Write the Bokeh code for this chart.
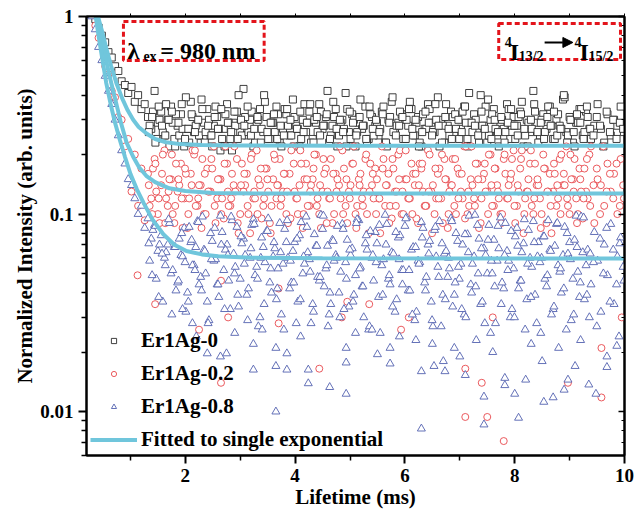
import numpy as np
from bokeh.plotting import figure
from bokeh.models import (FixedTicker, CustomJSTickFormatter, LogAxis, LinearAxis,
                          Legend, LegendItem, BoxAnnotation, Label, Arrow, NormalHead)
from bokeh.embed import file_html
from bokeh.resources import INLINE

# ---------------- data ----------------
t_start = 0.30    # ms, first sample of the main trace
t_start2 = 1.35   # ms, first sample of the 2nd interleaved trace
t_start3 = 1.335  # ms, first sample of the 3rd interleaved trace
t_step = 0.06     # ms, sampling interval

black_y = [1.05, 0.97, 0.88, 0.80, 0.74, 0.66, 0.62, 0.56, 0.53, 0.47, 0.45, 0.41, 0.44, 0.37, 0.40, 0.34, 0.36,
           0.31, 0.27, 0.42, 0.29, 0.33, 0.25, 0.30, 0.35, 0.24, 0.28,
           0.32, 0.22, 0.27, 0.37, 0.26, 0.30, 0.23, 0.29, 0.34, 0.25,
           0.28, 0.31, 0.21, 0.27, 0.36, 0.24, 0.29, 0.33, 0.26, 0.43,
           0.25, 0.30, 0.22, 0.28, 0.34, 0.26, 0.31, 0.24, 0.29, 0.35,
           0.23, 0.27, 0.32, 0.25, 0.38, 0.28, 0.22, 0.30, 0.26, 0.33,
           0.24, 0.29, 0.36, 0.27, 0.31, 0.23, 0.28, 0.34, 0.25, 0.30,
           0.41, 0.26, 0.32, 0.22, 0.29, 0.27, 0.35, 0.24, 0.31, 0.28,
           0.25, 0.33, 0.23, 0.30, 0.37, 0.26, 0.29, 0.32, 0.24, 0.28,
           0.34, 0.25, 0.31, 0.22, 0.27, 0.36, 0.29, 0.26, 0.39, 0.30,
           0.23, 0.28, 0.33, 0.25, 0.31, 0.27, 0.35, 0.24, 0.29, 0.32,
           0.26, 0.40, 0.28, 0.23, 0.30, 0.34, 0.25, 0.29, 0.27, 0.36,
           0.24, 0.31, 0.28, 0.33, 0.22, 0.30, 0.26, 0.42, 0.29, 0.25,
           0.32, 0.27, 0.35, 0.24, 0.30, 0.28, 0.38, 0.26, 0.31, 0.23,
           0.29, 0.34, 0.25, 0.33, 0.27]
black_y2 = [0.28, 0.33, 0.24, 0.30, 0.26, 0.36, 0.22, 0.29, 0.32, 0.25,
            0.27, 0.39, 0.23, 0.31, 0.28, 0.25, 0.34, 0.26, 0.30, 0.22,
            0.35, 0.27, 0.24, 0.32, 0.29, 0.21, 0.28, 0.40, 0.25, 0.31,
            0.26, 0.33, 0.23, 0.30, 0.27, 0.37, 0.24, 0.29, 0.26, 0.32,
            0.22, 0.34, 0.28, 0.25, 0.31, 0.27, 0.24, 0.36, 0.29, 0.23,
            0.30, 0.26, 0.33, 0.28, 0.42, 0.25, 0.31, 0.22, 0.29, 0.27,
            0.34, 0.24, 0.30, 0.26, 0.38, 0.28, 0.23, 0.32, 0.25, 0.29,
            0.27, 0.35, 0.22, 0.31, 0.26, 0.28, 0.33, 0.24, 0.30, 0.37,
            0.25, 0.29, 0.23, 0.32, 0.27, 0.34, 0.26, 0.30, 0.22, 0.28,
            0.36, 0.25, 0.31, 0.27, 0.24, 0.33, 0.29, 0.41, 0.26, 0.30,
            0.23, 0.28, 0.35, 0.25, 0.32, 0.27, 0.22, 0.30, 0.26, 0.34,
            0.28, 0.24, 0.31, 0.37, 0.25, 0.29, 0.27, 0.33, 0.23, 0.30,
            0.26, 0.35, 0.28, 0.24, 0.32, 0.27, 0.39, 0.25, 0.30, 0.22,
            0.29, 0.34, 0.26, 0.31, 0.24, 0.28, 0.36, 0.27, 0.23, 0.32,
            0.25, 0.30, 0.28, 0.35, 0.26]
black_y3 = [0.26, 0.31, 0.23, 0.35, 0.28, 0.25, 0.30, 0.33, 0.22, 0.29,
            0.36, 0.24, 0.27, 0.32, 0.26, 0.30, 0.38, 0.23, 0.28, 0.25,
            0.31, 0.27, 0.34, 0.22, 0.29, 0.26, 0.33, 0.24, 0.30, 0.28,
            0.35, 0.25, 0.27, 0.31, 0.23, 0.40, 0.26, 0.29, 0.32, 0.24,
            0.28, 0.25, 0.34, 0.30, 0.22, 0.27, 0.33, 0.26, 0.29, 0.36,
            0.23, 0.31, 0.25, 0.28, 0.32, 0.24, 0.37, 0.27, 0.30, 0.26,
            0.22, 0.33, 0.29, 0.25, 0.31, 0.28, 0.24, 0.35, 0.27, 0.30,
            0.26, 0.32, 0.23, 0.29, 0.39, 0.25, 0.28, 0.31, 0.24, 0.34,
            0.27, 0.30, 0.22, 0.26, 0.33, 0.29, 0.25, 0.36, 0.28, 0.23,
            0.31, 0.27, 0.24, 0.32, 0.30, 0.26, 0.35, 0.22, 0.29, 0.28,
            0.25, 0.33, 0.27, 0.38, 0.24, 0.30, 0.26, 0.31, 0.23, 0.29,
            0.34, 0.28, 0.25, 0.32, 0.27, 0.22, 0.30, 0.36, 0.26, 0.29,
            0.24, 0.31, 0.28, 0.33, 0.25, 0.27, 0.40, 0.23, 0.30, 0.26,
            0.32, 0.29, 0.24, 0.35, 0.27, 0.25, 0.31, 0.28, 0.22, 0.33,
            0.26, 0.30, 0.24, 0.29, 0.27]

red_y = [1.02, 0.90, 0.78, 0.70, 0.56, 0.51, 0.42, 0.39, 0.31, 0.30, 0.22, 0.24, 0.13, 0.20, 0.11, 0.17, 0.093,
         0.16, 0.12, 0.19, 0.10, 0.14, 0.21, 0.11, 0.15, 0.09, 0.13,
         0.18, 0.12, 0.085, 0.16, 0.20, 0.11, 0.14, 0.10, 0.17, 0.13,
         0.22, 0.12, 0.15, 0.095, 0.18, 0.11, 0.14, 0.19, 0.10, 0.13,
         0.16, 0.08, 0.12, 0.21, 0.14, 0.11, 0.17, 0.09, 0.15, 0.12,
         0.19, 0.13, 0.10, 0.16, 0.22, 0.12, 0.14, 0.085, 0.18, 0.11,
         0.15, 0.20, 0.10, 0.13, 0.17, 0.12, 0.09, 0.16, 0.14, 0.21,
         0.11, 0.13, 0.18, 0.10, 0.15, 0.12, 0.19, 0.08, 0.14, 0.17,
         0.12, 0.22, 0.11, 0.16, 0.095, 0.13, 0.20, 0.10, 0.15, 0.12,
         0.18, 0.14, 0.09, 0.17, 0.11, 0.21, 0.13, 0.10, 0.16, 0.12,
         0.19, 0.085, 0.14, 0.11, 0.17, 0.13, 0.22, 0.10, 0.15, 0.12,
         0.18, 0.09, 0.16, 0.13, 0.20, 0.11, 0.14, 0.10, 0.19, 0.12,
         0.15, 0.21, 0.11, 0.17, 0.08, 0.13, 0.18, 0.10, 0.14, 0.12,
         0.20, 0.09, 0.16, 0.13, 0.11, 0.19, 0.14, 0.22, 0.10, 0.15,
         0.12, 0.17, 0.095, 0.13, 0.20]
red_y2 = [0.11, 0.17, 0.13, 0.09, 0.20, 0.12, 0.15, 0.10, 0.18, 0.14,
          0.085, 0.16, 0.12, 0.21, 0.11, 0.14, 0.19, 0.10, 0.13, 0.17,
          0.09, 0.15, 0.12, 0.22, 0.11, 0.16, 0.13, 0.08, 0.18, 0.14,
          0.10, 0.20, 0.12, 0.15, 0.095, 0.17, 0.13, 0.11, 0.19, 0.14,
          0.12, 0.16, 0.09, 0.21, 0.13, 0.10, 0.18, 0.15, 0.11, 0.14,
          0.20, 0.12, 0.085, 0.16, 0.13, 0.19, 0.10, 0.15, 0.12, 0.17,
          0.09, 0.14, 0.22, 0.11, 0.16, 0.13, 0.10, 0.18, 0.12, 0.15,
          0.08, 0.19, 0.14, 0.11, 0.17, 0.13, 0.21, 0.10, 0.15, 0.12,
          0.16, 0.095, 0.18, 0.13, 0.11, 0.20, 0.14, 0.12, 0.17, 0.09,
          0.15, 0.13, 0.19, 0.10, 0.16, 0.12, 0.22, 0.11, 0.14, 0.18,
          0.085, 0.15, 0.13, 0.20, 0.11, 0.17, 0.12, 0.10, 0.16, 0.14,
          0.19, 0.09, 0.13, 0.21, 0.12, 0.15, 0.11, 0.18, 0.14, 0.10,
          0.17, 0.13, 0.08, 0.16, 0.12, 0.20, 0.14, 0.11, 0.15, 0.19,
          0.10, 0.13, 0.17, 0.12, 0.22, 0.09, 0.15, 0.14, 0.11, 0.18,
          0.13, 0.16, 0.10, 0.19, 0.12]
red_y3 = [0.14, 0.10, 0.18, 0.12, 0.16, 0.09, 0.13, 0.20, 0.11, 0.15,
          0.12, 0.17, 0.10, 0.14, 0.21, 0.12, 0.085, 0.16, 0.13, 0.19,
          0.11, 0.15, 0.10, 0.18, 0.13, 0.12, 0.22, 0.09, 0.14, 0.16,
          0.11, 0.19, 0.13, 0.10, 0.17, 0.12, 0.15, 0.08, 0.20, 0.14,
          0.11, 0.16, 0.13, 0.095, 0.18, 0.12, 0.21, 0.10, 0.15, 0.13,
          0.17, 0.11, 0.14, 0.19, 0.09, 0.12, 0.16, 0.13, 0.22, 0.10,
          0.15, 0.12, 0.18, 0.085, 0.14, 0.11, 0.20, 0.13, 0.16, 0.10,
          0.12, 0.17, 0.14, 0.09, 0.19, 0.11, 0.15, 0.13, 0.21, 0.12,
          0.10, 0.16, 0.14, 0.18, 0.11, 0.13, 0.08, 0.17, 0.12, 0.20,
          0.15, 0.10, 0.14, 0.19, 0.12, 0.16, 0.095, 0.13, 0.22, 0.11,
          0.15, 0.12, 0.18, 0.10, 0.14, 0.17, 0.13, 0.09, 0.20, 0.12,
          0.16, 0.11, 0.14, 0.19, 0.10, 0.13, 0.21, 0.12, 0.15, 0.085,
          0.17, 0.13, 0.11, 0.18, 0.14, 0.10, 0.16, 0.12, 0.20, 0.13,
          0.09, 0.15, 0.12, 0.19, 0.11, 0.14, 0.17, 0.10, 0.22, 0.13,
          0.16, 0.12, 0.18, 0.11, 0.14]

blue_y = [1.00, 0.86, 0.70, 0.60, 0.50, 0.42, 0.36, 0.30, 0.25, 0.21, 0.18, 0.15, 0.14, 0.12, 0.10, 0.11, 0.085,
          0.095, 0.075, 0.088, 0.065, 0.078, 0.060, 0.070, 0.050, 0.068, 0.045,
          0.062, 0.085, 0.040, 0.072, 0.055, 0.092, 0.048, 0.066, 0.036, 0.080,
          0.058, 0.044, 0.098, 0.052, 0.070, 0.033, 0.063, 0.086, 0.047, 0.075,
          0.039, 0.060, 0.094, 0.054, 0.030, 0.068, 0.082, 0.045, 0.061, 0.037,
          0.090, 0.056, 0.072, 0.042, 0.065, 0.028, 0.078, 0.050, 0.097, 0.059,
          0.035, 0.069, 0.046, 0.084, 0.053, 0.031, 0.074, 0.062, 0.040, 0.089,
          0.057, 0.034, 0.067, 0.049, 0.093, 0.043, 0.071, 0.026, 0.060, 0.081,
          0.038, 0.055, 0.099, 0.047, 0.064, 0.032, 0.076, 0.052, 0.087, 0.041,
          0.066, 0.029, 0.058, 0.091, 0.045, 0.070, 0.036, 0.083, 0.054, 0.027,
          0.063, 0.048, 0.095, 0.039, 0.073, 0.056, 0.031, 0.079, 0.044, 0.061,
          0.088, 0.035, 0.067, 0.050, 0.025, 0.074, 0.058, 0.096, 0.042, 0.065,
          0.030, 0.053, 0.085, 0.046, 0.071, 0.037, 0.060, 0.092, 0.028, 0.057,
          0.077, 0.043, 0.066, 0.033, 0.089, 0.051, 0.062, 0.026, 0.072, 0.047,
          0.098, 0.038, 0.064, 0.055, 0.030]
blue_y2 = [0.058, 0.083, 0.047, 0.070, 0.036, 0.064, 0.090, 0.052, 0.041, 0.075,
           0.061, 0.032, 0.086, 0.055, 0.068, 0.044, 0.097, 0.050, 0.029, 0.073,
           0.059, 0.038, 0.081, 0.066, 0.046, 0.093, 0.054, 0.034, 0.071, 0.062,
           0.042, 0.088, 0.049, 0.027, 0.076, 0.057, 0.095, 0.040, 0.067, 0.053,
           0.031, 0.084, 0.060, 0.045, 0.072, 0.036, 0.091, 0.056, 0.064, 0.028,
           0.079, 0.048, 0.099, 0.043, 0.069, 0.035, 0.058, 0.087, 0.051, 0.033,
           0.074, 0.062, 0.039, 0.094, 0.054, 0.030, 0.066, 0.082, 0.046, 0.071,
           0.025, 0.059, 0.089, 0.044, 0.063, 0.037, 0.078, 0.052, 0.096, 0.041,
           0.068, 0.032, 0.057, 0.085, 0.048, 0.073, 0.027, 0.061, 0.092, 0.039,
           0.065, 0.053, 0.034, 0.080, 0.047, 0.070, 0.030, 0.098, 0.056, 0.043,
           0.075, 0.036, 0.062, 0.088, 0.050, 0.028, 0.067, 0.045, 0.090, 0.058,
           0.033, 0.077, 0.042, 0.064, 0.026, 0.083, 0.054, 0.039, 0.072, 0.060,
           0.047, 0.093, 0.031, 0.069, 0.055, 0.040, 0.086, 0.063, 0.029, 0.074,
           0.051, 0.097, 0.037, 0.066, 0.044, 0.081, 0.058, 0.032, 0.070, 0.049,
           0.089, 0.035, 0.061, 0.076, 0.046]
blue_y3 = [0.071, 0.049, 0.087, 0.038, 0.063, 0.055, 0.094, 0.031, 0.068, 0.046,
           0.080, 0.057, 0.036, 0.074, 0.052, 0.091, 0.041, 0.065, 0.028, 0.059,
           0.085, 0.044, 0.070, 0.033, 0.062, 0.097, 0.050, 0.039, 0.077, 0.056,
           0.029, 0.067, 0.089, 0.047, 0.060, 0.035, 0.082, 0.053, 0.072, 0.042,
           0.064, 0.026, 0.093, 0.058, 0.045, 0.075, 0.037, 0.061, 0.086, 0.051,
           0.032, 0.069, 0.048, 0.098, 0.055, 0.040, 0.073, 0.060, 0.030, 0.084,
           0.047, 0.066, 0.036, 0.090, 0.053, 0.043, 0.078, 0.027, 0.062, 0.057,
           0.088, 0.039, 0.070, 0.049, 0.034, 0.081, 0.059, 0.044, 0.095, 0.052,
           0.031, 0.068, 0.056, 0.076, 0.041, 0.063, 0.029, 0.086, 0.048, 0.071,
           0.037, 0.060, 0.092, 0.045, 0.054, 0.033, 0.079, 0.064, 0.040, 0.099,
           0.050, 0.067, 0.028, 0.074, 0.058, 0.043, 0.087, 0.035, 0.062, 0.052,
           0.082, 0.030, 0.069, 0.046, 0.094, 0.056, 0.038, 0.072, 0.061, 0.025,
           0.077, 0.049, 0.065, 0.034, 0.090, 0.053, 0.042, 0.080, 0.059, 0.031,
           0.068, 0.045, 0.096, 0.039, 0.063, 0.057, 0.027, 0.075, 0.050, 0.085,
           0.036, 0.066, 0.044, 0.071, 0.054]

# isolated low points
red_extra_x = [1.13, 1.45, 2.25, 2.65, 2.65, 2.78, 3.70, 3.70, 4.44, 4.85, 4.95, 5.35, 5.93, 6.07,
               7.10, 7.10, 7.40, 7.50, 7.60, 7.80, 8.97, 9.58, 9.58, 9.95]
red_extra_y = [0.049, 0.035, 0.026, 0.014, 0.046, 0.030, 0.028, 0.042, 0.0165, 0.030, 0.036, 0.035, 0.026, 0.030,
               0.0094, 0.0165, 0.014, 0.0094, 0.030, 0.0071, 0.014, 0.0118, 0.021, 0.030]

blue_extra_x = [1.95, 2.13, 2.40, 2.64, 2.75, 3.24, 3.24, 3.65, 3.65, 3.85, 3.85, 3.65, 4.24, 4.24, 4.63,
                4.93, 4.93, 4.93, 5.50, 5.73, 5.73, 6.30, 6.30, 6.53, 6.70, 6.73, 7.10, 7.44, 7.44, 7.82,
                7.82, 8.00, 8.07, 8.20, 8.53, 8.70, 8.90, 8.97, 9.35, 9.48, 9.68, 9.68, 9.86,
                2.20, 2.90, 3.40, 4.10, 4.60, 5.10, 5.90, 6.50, 6.90, 7.30, 7.60, 8.30, 8.80, 9.20,
                9.90, 7.00, 8.50, 9.10, 6.20, 5.40]
blue_extra_y = [0.033, 0.028, 0.0197, 0.019, 0.0197, 0.0163, 0.022, 0.021, 0.017, 0.0197, 0.0163, 0.0100,
                0.0163, 0.0139, 0.0133, 0.021, 0.0177, 0.0123, 0.0195, 0.021, 0.0175, 0.016, 0.0082, 0.017,
                0.018, 0.016, 0.0153, 0.0119, 0.0086, 0.0148, 0.0136, 0.0123, 0.0093, 0.0145, 0.0112,
                0.0118, 0.0129, 0.0145, 0.0137, 0.0123, 0.0168, 0.019, 0.0215,
                0.024, 0.025, 0.026, 0.024, 0.027, 0.025, 0.024, 0.022, 0.021, 0.023, 0.020, 0.022, 0.021,
                0.023, 0.024, 0.019, 0.018, 0.017, 0.023, 0.026]

# fitted single-exponential curves
fit_black_t = [0.40, 0.48, 0.56, 0.65, 0.75, 0.85, 0.95, 1.05, 1.15, 1.30, 1.45, 1.65, 1.90, 2.30, 3.00, 5.00, 10.0]
fit_black_y = [1.02, 0.85, 0.69, 0.56, 0.455, 0.385, 0.335, 0.300, 0.276, 0.255, 0.240, 0.231, 0.226, 0.2235,
               0.2225, 0.222, 0.222]
fit_red_t = [0.38, 0.45, 0.52, 0.62, 0.72, 0.82, 0.93, 1.05, 1.16, 1.30, 1.45, 1.71, 2.00, 2.50, 3.50, 10.0]
fit_red_y = [1.03, 0.82, 0.67, 0.50, 0.385, 0.295, 0.230, 0.195, 0.172, 0.155, 0.145, 0.135, 0.131, 0.128,
             0.127, 0.127]
fit_blue_t = [0.36, 0.42, 0.48, 0.56, 0.64, 0.72, 0.81, 0.90, 1.00, 1.12, 1.24, 1.40, 1.60, 1.80, 2.02, 2.30,
              2.60, 3.20, 4.50, 10.0]
fit_blue_y = [1.03, 0.80, 0.63, 0.46, 0.36, 0.29, 0.236, 0.195, 0.160, 0.133, 0.114, 0.094, 0.079, 0.070,
              0.065, 0.0625, 0.0612, 0.0602, 0.0597, 0.0596]

series_names = ["Er1Ag-0", "Er1Ag-0.2", "Er1Ag-0.8"]
fit_name = "Fitted to single exponential"
x_major = [2, 4, 6, 8, 10]
x_minor = [1, 3, 5, 7, 9]
y_major = [0.01, 0.1, 1]
y_minor = [0.006, 0.007, 0.008, 0.009, 0.02, 0.03, 0.04, 0.05, 0.06, 0.07, 0.08, 0.09,
           0.2, 0.3, 0.4, 0.5, 0.6, 0.7, 0.8, 0.9]

# ---------------- styling ----------------
FONT = "Liberation Serif"
C_BLACK = "#2a2a2a"
C_RED = "#e8474c"
C_BLUE = "#5462b0"
C_FIT = "#70c6dc"
C_BOX = "#e3141b"

def grid(t0, ys):
    return t0 + t_step * np.arange(len(ys))

p = figure(width=644, height=513, x_range=(0.2, 10), y_range=(0.006, 1), y_axis_type="log",
           output_backend="svg", toolbar_location=None,
           min_border_left=86, min_border_right=20, min_border_top=16, min_border_bottom=58)
p.background_fill_color = "white"
p.xgrid.visible = False
p.ygrid.visible = False
p.outline_line_color = "black"
p.outline_line_width = 2

mk = dict(line_width=0.9, fill_color="white")
for t0, ys in [(t_start, black_y), (t_start2, black_y2), (t_start3, black_y3)]:
    p.scatter(grid(t0, ys), ys, marker="square", size=7, line_color=C_BLACK, **mk)
for t0, ys in [(t_start, red_y), (t_start2, red_y2), (t_start3, red_y3)]:
    p.scatter(grid(t0, ys), ys, marker="circle", size=7, line_color=C_RED, **mk)
p.scatter(red_extra_x, red_extra_y, marker="circle", size=7, line_color=C_RED, **mk)
for t0, ys in [(t_start, blue_y), (t_start2, blue_y2), (t_start3, blue_y3)]:
    p.scatter(grid(t0, ys), ys, marker="triangle", size=8, line_color=C_BLUE, **mk)
p.scatter(blue_extra_x, blue_extra_y, marker="triangle", size=8, line_color=C_BLUE, **mk)

p.line(fit_black_t, fit_black_y, line_color=C_FIT, line_width=4)
p.line(fit_red_t, fit_red_y, line_color=C_FIT, line_width=4)
fit_r = p.line(fit_blue_t, fit_blue_y, line_color=C_FIT, line_width=4)

# legend proxies (NaN so nothing is plotted)
lg_b = p.scatter([np.nan], [np.nan], marker="square", size=5, line_color=C_BLACK, **mk)
lg_r = p.scatter([np.nan], [np.nan], marker="circle", size=5, line_color=C_RED, **mk)
lg_u = p.scatter([np.nan], [np.nan], marker="triangle", size=6, line_color=C_BLUE, **mk)

legend = Legend(items=[LegendItem(label=series_names[0], renderers=[lg_b]),
                       LegendItem(label=series_names[1], renderers=[lg_r]),
                       LegendItem(label=series_names[2], renderers=[lg_u]),
                       LegendItem(label=fit_name, renderers=[fit_r])],
                location=(4, 1), padding=0, margin=0, spacing=3,
                glyph_width=47, glyph_height=13, label_height=30, label_standoff=4,
                label_text_font=FONT, label_text_font_style="bold", label_text_font_size="21px",
                label_text_color="black", border_line_alpha=0, background_fill_alpha=0)
p.add_layout(legend)

# axes
fmt = CustomJSTickFormatter(code="return tick.toString();")
blank = CustomJSTickFormatter(code="return '';")

xa = p.xaxis[0]
xa.ticker = FixedTicker(ticks=x_major, minor_ticks=x_minor)
xa.formatter = fmt
xa.axis_label = "Lifetime (ms)"
xa.axis_label_standoff = 0
ya = p.yaxis[0]
ya.ticker = FixedTicker(ticks=y_major, minor_ticks=y_minor)
ya.formatter = fmt
ya.axis_label = "Normalized Intensity (arb. units)"
ya.axis_label_standoff = 0
for ax in (xa, ya):
    ax.axis_line_width = 2
    ax.major_tick_line_width = 2
    ax.minor_tick_line_width = 1.5
    ax.major_tick_out = 8
    ax.major_tick_in = 0
    ax.minor_tick_out = 5
    ax.minor_tick_in = 0
    ax.major_label_text_font = FONT
    ax.major_label_text_font_style = "bold"
    ax.major_label_text_font_size = "19px"
    ax.major_label_text_color = "black"
    ax.axis_label_text_font = FONT
    ax.axis_label_text_font_style = "bold"
    ax.axis_label_text_font_size = "21px"
    ax.axis_label_text_color = "black"
xa.major_label_standoff = 5
ya.major_label_standoff = 5

top = LinearAxis(ticker=FixedTicker(ticks=[1, 2, 3, 4, 5, 6, 7, 8, 9, 10]), formatter=blank,
                 major_tick_out=3, major_tick_in=0, minor_tick_out=0, minor_tick_in=0,
                 major_label_text_font_size="0px", major_label_standoff=0, axis_line_width=2,
                 major_tick_line_width=1)
p.add_layout(top, "above")
right = LogAxis(ticker=FixedTicker(ticks=y_major, minor_ticks=y_minor), formatter=blank,
                major_tick_out=0, major_tick_in=6, minor_tick_out=0, minor_tick_in=3,
                major_label_text_font_size="0px", major_label_standoff=0, axis_line_width=2,
                major_tick_line_width=1.5, minor_tick_line_width=1)
p.add_layout(right, "right")

# annotation boxes
for l, r, b, t in [(0.873, 3.436, 0.599, 0.943), (7.709, 9.927, 0.606, 0.922)]:
    p.add_layout(BoxAnnotation(left=l, right=r, bottom=b, top=t, fill_alpha=0, fill_color=None,
                               line_color=C_BOX, line_alpha=1.0, line_width=3, line_dash="5 3"))

def lab(x, y, text, size):
    p.add_layout(Label(x=x, y=y, text=text, text_align="left", text_baseline="alphabetic",
                       text_font=FONT, text_font_style="bold", text_font_size=size, text_color="black"))

lab(0.9455, 0.6727, "λ", "24px")
lab(1.2364, 0.627, "ex", "14px")
lab(1.5455, 0.6727, "= 980 nm", "24px")

lab(7.818, 0.7388, "4", "14px")
lab(7.909, 0.6648, "I", "24px")
lab(8.073, 0.627, "13/2", "14px")
lab(9.091, 0.7388, "4", "14px")
lab(9.182, 0.6648, "I", "24px")
lab(9.345, 0.627, "15/2", "14px")
p.add_layout(Arrow(end=NormalHead(size=10, fill_color="black", line_color="black"),
                   x_start=8.545, y_start=0.7388, x_end=9.06, y_end=0.7388,
                   line_width=2, line_color="black"))

open("out.html", "w").write(file_html(p, INLINE))
